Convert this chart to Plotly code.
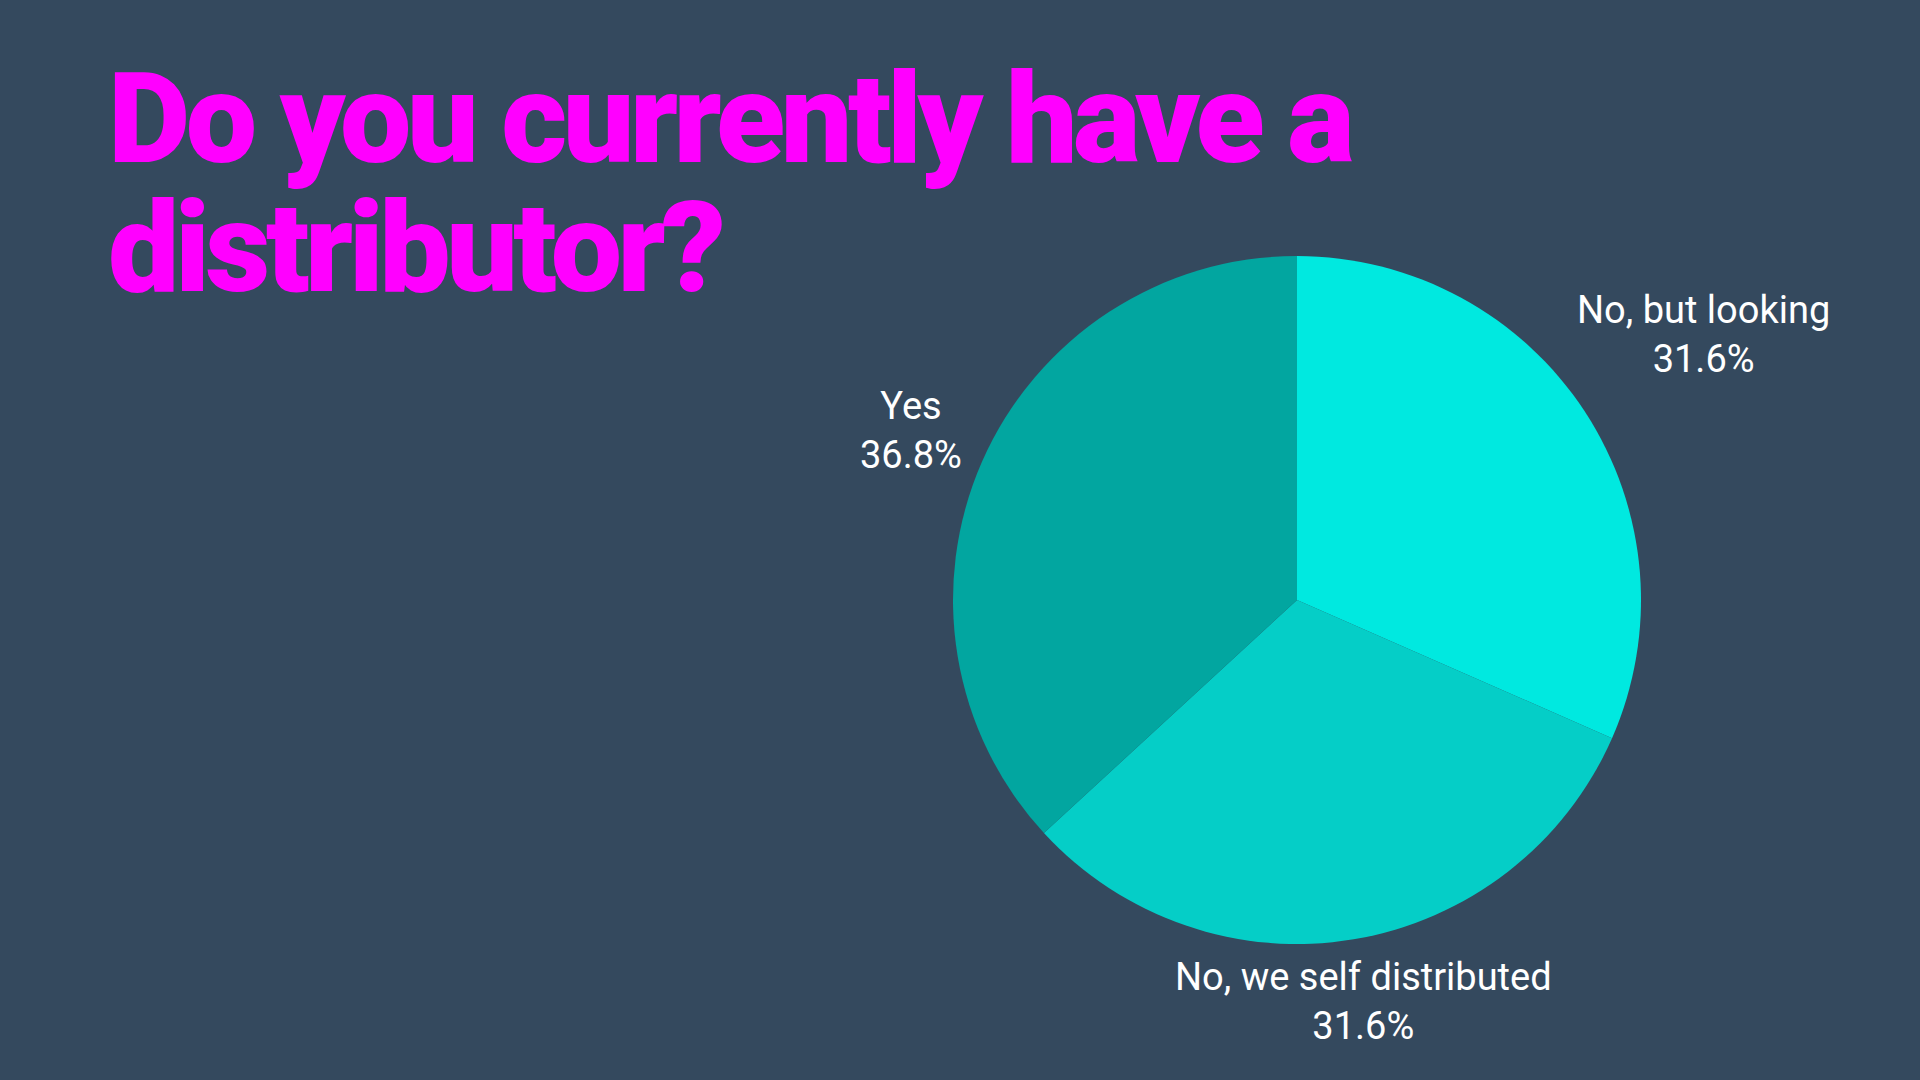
import math
import plotly.graph_objects as go

labels = ["No, but looking", "No, we self distributed", "Yes"]
counts = [6, 6, 7]
colors = ["#00E9E0", "#05CEC7", "#02A6A0"]
title_lines = ["Do you currently have a", "distributor?"]

W, H = 1920, 1080
cx, cy, R = 1297, 600, 344
label_radius = [1.412, 1.183, 1.225]   # label centre distance, in pie radii

fig = go.Figure(go.Pie(
    labels=labels, values=counts, sort=False, direction="clockwise", rotation=0,
    marker=dict(colors=colors, line=dict(width=0)),
    textinfo="none", showlegend=False, hoverinfo="label+percent",
    domain=dict(x=[(cx - R) / W, (cx + R) / W], y=[(H - cy - R) / H, (H - cy + R) / H]),
))

# outside labels, placed along each slice's mid angle
total = sum(counts)
cum = 0
for lab, v, k in zip(labels, counts, label_radius):
    mid = (cum + v / 2) / total * 2 * math.pi
    cum += v
    px = cx + k * R * math.sin(mid)
    py = cy - k * R * math.cos(mid)
    fig.add_annotation(text=f"{lab}<br>{v / total:.1%}", xref="paper", yref="paper",
                       x=px / W, y=1 - py / H, xanchor="center", yanchor="middle",
                       showarrow=False, font=dict(family="Roboto", size=38, color="white"))

for line, ymid in zip(title_lines, [119, 247]):
    fig.add_annotation(text=line, xref="paper", yref="paper", x=106 / W, y=1 - ymid / H,
                       xanchor="left", yanchor="middle", align="left", showarrow=False,
                       font=dict(family="Roboto", size=127, color="#FF00FF", weight=900))

fig.update_layout(width=W, height=H, margin=dict(l=0, r=0, t=0, b=0),
                  paper_bgcolor="#34495E", plot_bgcolor="#34495E")

post = """
document.body.style.margin='0';
document.body.style.background='#34495E';
document.querySelectorAll('.annotation-text').forEach(function(t){
  var s = t.textContent;
  if (s.indexOf('Do you') === 0 || s.indexOf('distributor?') === 0) { t.style.letterSpacing = '-4.5px'; }
});
"""
fig.write_html("out.html", post_script=post, config={"displayModeBar": False})
